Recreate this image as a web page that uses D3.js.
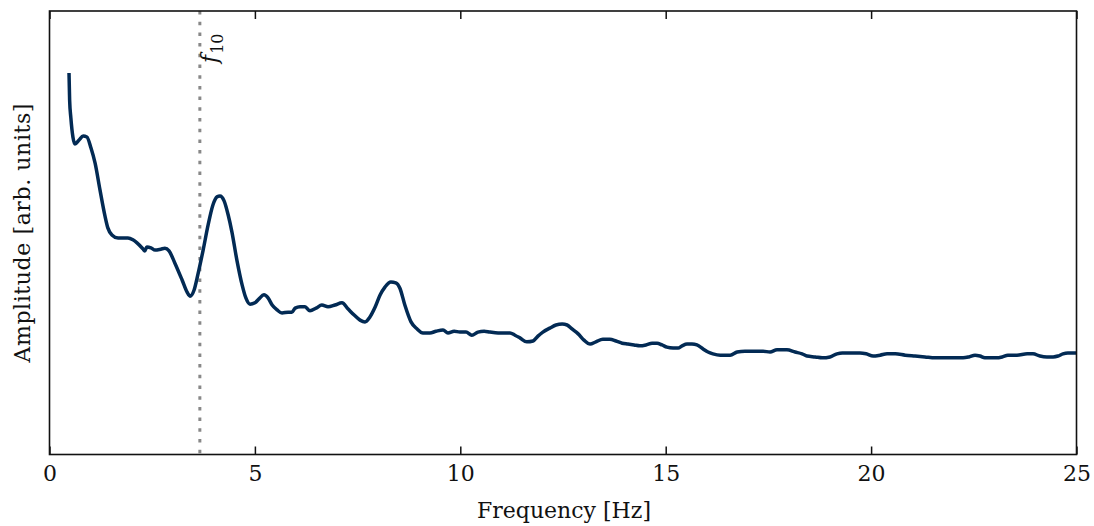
<!DOCTYPE html>
<html>
<head>
<meta charset="utf-8">
<script src="https://cdn.jsdelivr.net/npm/d3@7"></script>
<style>
  html, body { margin: 0; padding: 0; background: #fff; }
  svg { display: block; }
  text { font-family: "DejaVu Serif", "Liberation Serif", serif; fill: #111; }
</style>
</head>
<body>
<svg id="chart" width="1094" height="526"></svg>
<script>
// ---- data ----
const frequency = [
  0.475,0.49,0.52,0.57,0.62,0.72,0.82,0.91,1.01,1.11,1.23,1.35,1.42,1.52,1.67,1.91,2.03,2.13,2.28,2.32,
  2.37,2.47,2.57,2.71,2.81,2.91,3.05,3.23,3.35,3.42,3.52,3.61,3.74,3.86,3.98,4.08,4.15,4.25,4.35,4.44,
  4.56,4.69,4.78,4.88,5.00,5.10,5.22,5.32,5.42,5.54,5.66,5.81,5.90,5.98,6.10,6.22,6.34,6.49,6.63,6.78,
  6.95,7.12,7.27,7.41,7.56,7.68,7.80,7.93,8.05,8.17,8.31,8.43,8.53,8.65,8.80,8.95,9.09,9.26,9.41,9.58,
  9.70,9.85,9.99,10.14,10.28,10.43,10.58,10.72,10.92,11.09,11.21,11.33,11.45,11.62,11.77,11.89,12.01,12.18,12.33,12.48,
  12.60,12.72,12.87,13.01,13.16,13.30,13.47,13.64,13.79,13.94,14.08,14.23,14.37,14.52,14.67,14.79,14.91,15.03,15.18,15.30,
  15.40,15.52,15.64,15.76,15.91,16.03,16.15,16.33,16.57,16.74,16.93,17.22,17.37,17.54,17.71,17.95,18.15,18.32,18.44,18.64,
  18.81,19.00,19.17,19.30,19.49,19.73,19.88,20.05,20.22,20.39,20.59,20.83,21.07,21.31,21.56,21.80,22.04,22.24,22.38,22.53,
  22.65,22.77,22.89,23.04,23.19,23.33,23.55,23.80,23.94,24.11,24.28,24.43,24.55,24.67,24.79,25.0
];
const amplitude = [
  86.0,79.9,75.9,71.6,70.0,70.9,71.8,71.6,69.1,65.7,59.6,53.8,51.1,49.5,48.8,48.8,48.4,47.7,46.3,45.9,
  46.8,46.6,46.1,46.3,46.5,45.9,43.2,39.3,36.6,35.7,37.1,40.5,46.1,51.7,56.3,58.1,58.3,57.2,54.0,50.2,
  43.9,38.2,35.3,33.9,34.2,35.1,36.0,35.3,33.7,32.6,31.9,32.1,32.1,33.0,33.3,33.3,32.4,33.0,33.7,33.3,
  33.7,34.2,32.8,31.5,30.3,29.9,31.0,33.3,36.0,37.8,38.9,38.7,37.5,33.7,29.9,28.3,27.4,27.4,27.8,28.1,
  27.4,27.8,27.6,27.6,26.9,27.6,27.8,27.6,27.4,27.4,27.4,26.9,26.3,25.4,25.6,26.7,27.6,28.5,29.2,29.4,
  29.2,28.3,27.2,25.8,24.9,25.4,26.0,26.0,25.6,25.1,24.9,24.7,24.5,24.7,25.1,25.1,24.7,24.2,24.0,24.0,
  24.5,24.9,24.9,24.7,23.8,23.1,22.7,22.4,22.4,23.1,23.3,23.3,23.3,23.1,23.6,23.6,23.1,22.7,22.2,22.0,
  21.8,22.0,22.7,22.9,22.9,22.9,22.7,22.2,22.4,22.7,22.7,22.4,22.2,22.0,21.8,21.8,21.8,21.8,22.0,22.4,
  22.2,21.8,21.8,21.8,22.0,22.4,22.4,22.7,22.7,22.2,22.0,22.0,22.2,22.7,22.9,22.9
];
const xTicks = [0, 5, 10, 15, 20, 25];
const markerFrequency = 3.66;
const markerLabel = "f";
const markerSub = "10";
const xLabel = "Frequency [Hz]";
const yLabel = "Amplitude [arb. units]";

// ---- layout ----
const W = 1094, H = 526;
const m = { left: 49.5, right: 17.5, top: 11, bottom: 71.5 };
const svg = d3.select("#chart");

const x = d3.scaleLinear().domain([0, 25]).range([m.left, W - m.right]);
const y = d3.scaleLinear().domain([0, 100]).range([H - m.bottom, m.top]);

const pts = frequency.map((f, i) => [f, amplitude[i]]);

// marker line
svg.append("line")
  .attr("x1", x(markerFrequency)).attr("x2", x(markerFrequency))
  .attr("y1", y(100)).attr("y2", y(0))
  .attr("stroke", "#888").attr("stroke-width", 3)
  .attr("stroke-dasharray", "3.5,7.2");

// marker label (rotated)
const lbl = svg.append("text")
  .attr("transform", `translate(${x(markerFrequency) + 17},63) rotate(-90)`)
  .attr("font-size", 22);
lbl.append("tspan").attr("font-style", "italic").text(markerLabel);
lbl.append("tspan").attr("font-size", 16).attr("dy", 6).attr("dx", 1).text(markerSub);

// data line
const line = d3.line().x(d => x(d[0])).y(d => y(d[1])).curve(d3.curveMonotoneX);
svg.append("path")
  .datum(pts)
  .attr("d", line)
  .attr("fill", "none")
  .attr("stroke", "#022a54")
  .attr("stroke-width", 3.5)
  .attr("stroke-linejoin", "round")
  .attr("stroke-linecap", "butt");

// axes: bottom with labels, top with ticks only
const gB = svg.append("g").attr("transform", `translate(0,${y(0)})`)
  .call(d3.axisBottom(x).tickValues(xTicks).tickFormat(d3.format("d")).tickSizeInner(-8).tickSizeOuter(0).tickPadding(11));
gB.select(".domain").remove();
gB.selectAll(".tick line").attr("stroke", "#111").attr("stroke-width", 1.5);
gB.selectAll(".tick text").attr("font-size", 22).attr("font-family", "DejaVu Serif, serif").attr("fill", "#111");

const gT = svg.append("g").attr("transform", `translate(0,${y(100)})`)
  .call(d3.axisTop(x).tickValues(xTicks).tickFormat("").tickSizeInner(-8).tickSizeOuter(0));
gT.select(".domain").remove();
gT.selectAll(".tick line").attr("stroke", "#111").attr("stroke-width", 1.5);

// frame
svg.append("rect")
  .attr("x", x(0)).attr("y", y(100))
  .attr("width", x(25) - x(0)).attr("height", y(0) - y(100))
  .attr("fill", "none").attr("stroke", "#111").attr("stroke-width", 1.6);

// axis labels
svg.append("text")
  .attr("x", (x(0) + x(25)) / 2 + 1).attr("y", 518)
  .attr("text-anchor", "middle").attr("font-size", 22)
  .text(xLabel);
svg.append("text")
  .attr("transform", `translate(30,${(y(0) + y(100)) / 2}) rotate(-90)`)
  .attr("text-anchor", "middle").attr("font-size", 22)
  .attr("letter-spacing", 0.6)
  .text(yLabel);
</script>
</body>
</html>
